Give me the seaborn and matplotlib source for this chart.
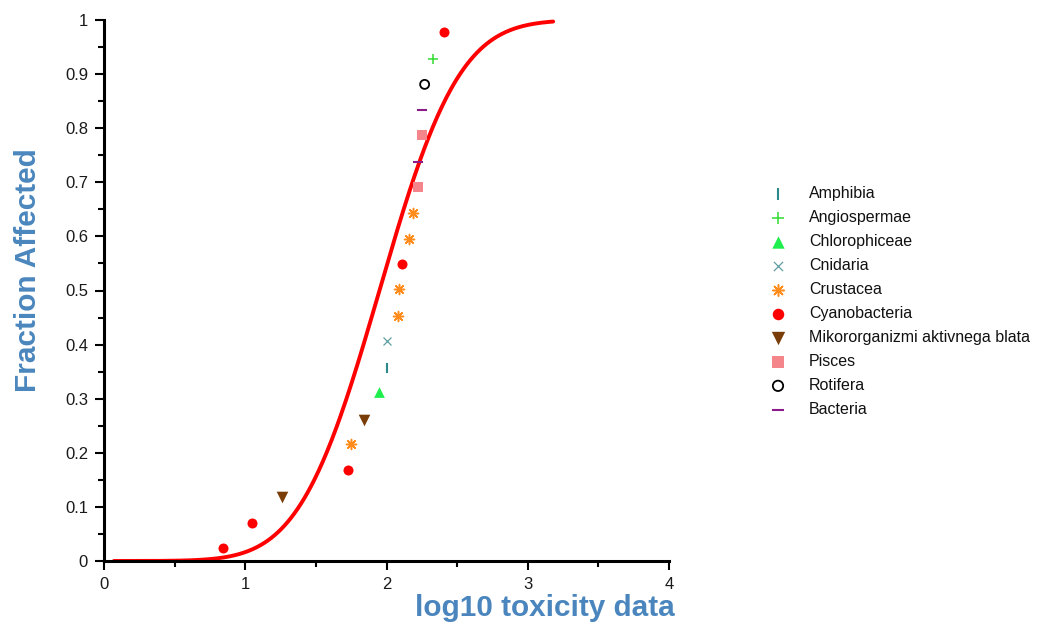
import math
import numpy as np
import pandas as pd
import matplotlib
matplotlib.use("Agg")
import matplotlib.pyplot as plt
import seaborn as sns

# ---- data ----
species = ["Amphibia", "Angiospermae", "Chlorophiceae", "Cnidaria", "Crustacea",
           "Cyanobacteria", "Mikororganizmi aktivnega blata", "Pisces", "Rotifera", "Bacteria"]

amphibia_x = [2.00]
amphibia_y = [0.357]
angiospermae_x = [2.33]
angiospermae_y = [0.928]
chlorophiceae_x = [1.95]
chlorophiceae_y = [0.312]
cnidaria_x = [2.00]
cnidaria_y = [0.406]
crustacea_x = [1.75, 2.08, 2.09, 2.16, 2.19]
crustacea_y = [0.216, 0.453, 0.502, 0.595, 0.643]
cyanobacteria_x = [0.84, 1.05, 1.73, 2.11, 2.41]
cyanobacteria_y = [0.024, 0.071, 0.168, 0.549, 0.977]
mikro_x = [1.26, 1.84]
mikro_y = [0.119, 0.261]
pisces_x = [2.22, 2.25]
pisces_y = [0.691, 0.787]
rotifera_x = [2.27]
rotifera_y = [0.881]
bacteria_x = [2.22, 2.25]
bacteria_y = [0.737, 0.834]

# fitted log-normal SSD parameters (on log10 scale)
fit_mu = 1.95
fit_sigma = 0.445
curve_start, curve_end = 0.07, 3.18

xs_all = [amphibia_x, angiospermae_x, chlorophiceae_x, cnidaria_x, crustacea_x,
          cyanobacteria_x, mikro_x, pisces_x, rotifera_x, bacteria_x]
ys_all = [amphibia_y, angiospermae_y, chlorophiceae_y, cnidaria_y, crustacea_y,
          cyanobacteria_y, mikro_y, pisces_y, rotifera_y, bacteria_y]

styles = {
    "Amphibia": dict(marker="|", color="#2a8a8a", s=60, linewidths=1.5),
    "Angiospermae": dict(marker="+", color="#33dd33", s=55, linewidths=1.1),
    "Chlorophiceae": dict(marker="^", color="#1eee4e", s=60, linewidths=0),
    "Cnidaria": dict(marker="x", color="#5f9ea0", s=33, linewidths=0.9),
    "Crustacea": dict(marker=(8, 2, 0), color="#ff8c1a", s=52, linewidths=1.1),
    "Cyanobacteria": dict(marker="o", color="#ff0000", s=52, linewidths=0),
    "Mikororganizmi aktivnega blata": dict(marker="v", color="#7a3d08", s=70, linewidths=0),
    "Pisces": dict(marker="s", color="#f4858a", s=52, linewidths=0),
    "Rotifera": dict(marker="o", color="black", s=42, linewidths=1.3),
    "Bacteria": dict(marker="_", color="#8b1a8b", s=55, linewidths=1.5),
}

sns.set_style("white")
plt.rcParams["font.family"] = ["Liberation Sans", "DejaVu Sans"]

fig = plt.figure(figsize=(10.6, 6.26), dpi=100)
ax = fig.add_axes([104 / 1060, 1 - 561 / 626, 565 / 1060, 541 / 626])

# fitted curve
cx = np.linspace(curve_start, curve_end, 400)
cy = np.array([0.5 * (1 + math.erf((v - fit_mu) / (fit_sigma * math.sqrt(2)))) for v in cx])
curve_df = pd.DataFrame({"x": cx, "y": cy})
sns.lineplot(data=curve_df, x="x", y="y", color="#ff0000", linewidth=2.8, ax=ax,
             legend=False, zorder=2)

for name, xs, ys in zip(species, xs_all, ys_all):
    st = styles[name]
    df = pd.DataFrame({"x": xs, "y": ys})
    if name == "Rotifera":
        sns.scatterplot(data=df, x="x", y="y", marker="o", s=st["s"], facecolors="none",
                        edgecolors="black", linewidth=st["linewidths"], ax=ax, label=name, zorder=3)
    else:
        sns.scatterplot(data=df, x="x", y="y", marker=st["marker"], color=st["color"],
                        s=st["s"], linewidth=st["linewidths"], ax=ax, label=name, zorder=3)

ax.set_xlim(0, 4)
ax.set_ylim(0, 1)
ax.set_xticks([0, 1, 2, 3, 4])
ax.set_xticklabels(["0", "1", "2", "3", "4"])
ax.set_xticks([0.5, 1.5, 2.5, 3.5], minor=True)
yt = [0, 0.1, 0.2, 0.3, 0.4, 0.5, 0.6, 0.7, 0.8, 0.9, 1]
ax.set_yticks(yt)
ax.set_yticklabels(["0", "0.1", "0.2", "0.3", "0.4", "0.5", "0.6", "0.7", "0.8", "0.9", "1"])
ax.set_yticks([0.05 + 0.1 * i for i in range(10)], minor=True)
ax.tick_params(which="major", direction="out", length=6.5, width=1.5, color="black",
               labelsize=12, labelcolor="#1a1a1a", bottom=True, left=True, pad=5)
ax.tick_params(which="minor", direction="out", length=4.5, width=1.5, color="black",
               bottom=True, left=True)
for sp in ["top", "right"]:
    ax.spines[sp].set_visible(False)
for sp in ["left", "bottom"]:
    ax.spines[sp].set_color("black")
    ax.spines[sp].set_linewidth(2.2)
for coll in ax.collections:
    coll.set_clip_on(False)
for ln in ax.lines:
    ln.set_clip_on(False)

label_font = dict(fontsize=21.4, fontweight="bold", color="#4a86bd", family="Liberation Sans")
ax.set_xlabel("log10 toxicity data", **label_font)
ax.xaxis.set_label_coords(0.78, -0.061)
ax.set_ylabel("Fraction Affected", **label_font)
ax.yaxis.set_label_coords(-0.11, 0.538)

leg = ax.legend(loc="center left", bbox_to_anchor=(0.7204, 0.518), bbox_transform=fig.transFigure,
                frameon=False, fontsize=11.5, handlelength=1.0, handletextpad=1.44,
                labelspacing=0.56, borderaxespad=0, scatterpoints=1, markerscale=1.15)
for t in leg.get_texts():
    t.set_color("#111111")

fig.savefig("out.png", dpi=100)
